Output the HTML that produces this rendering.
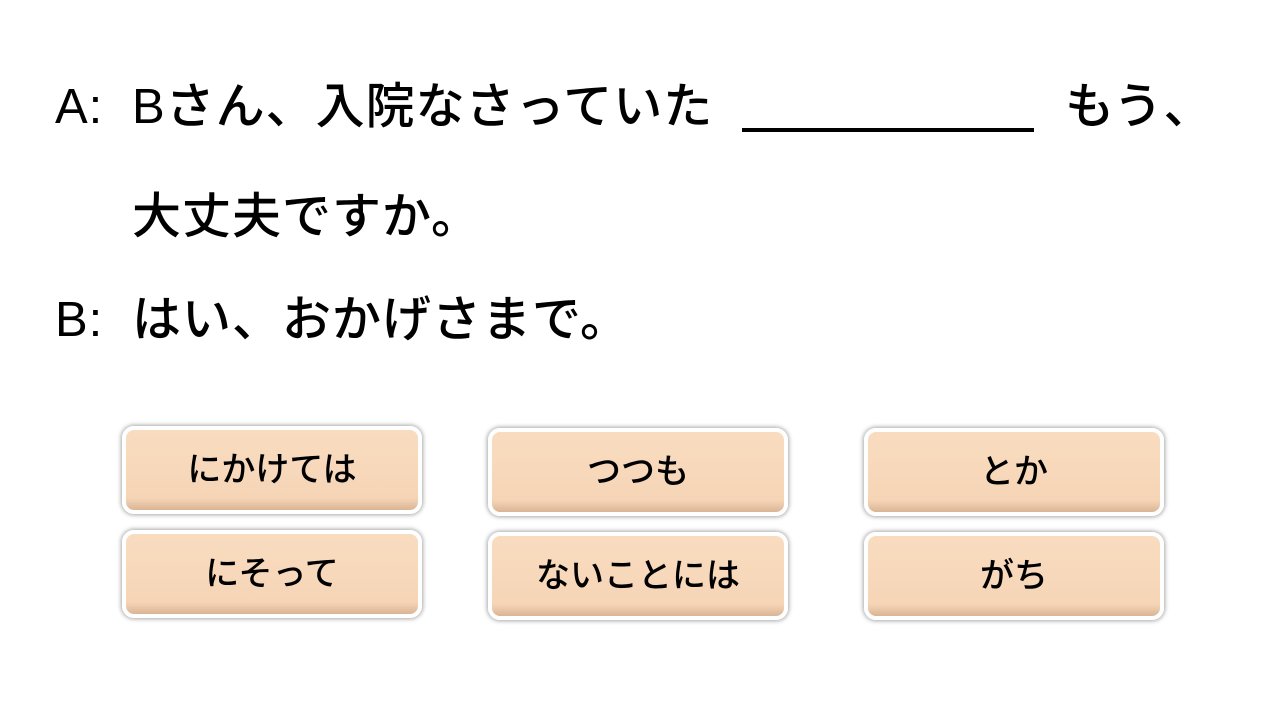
<!DOCTYPE html>
<html><head><meta charset="utf-8"><style>
body{margin:0;width:1280px;height:720px;background:#fff;position:relative;overflow:hidden;font-family:"Liberation Sans","Noto Sans CJK JP",sans-serif;color:#000}
.t{position:absolute;font-size:49px;line-height:50px;white-space:nowrap;font-weight:500;letter-spacing:1px}
.b{position:absolute;width:292px;height:80px;border:4px solid #fff;border-radius:12px;box-shadow:0 0 4px 1px rgba(0,0,0,.35);background:linear-gradient(#f9dcc0,#f6d5b6 85%,#d9b595);box-sizing:content-box;font-size:34px;font-weight:500;line-height:80px;text-align:center}
</style></head><body>
<div class="t" style="left:55px;top:82px">A:</div>
<div class="t" style="left:132px;top:82px">Bさん、入院なさっていた</div>
<div style="position:absolute;left:742px;top:128px;width:292px;height:4px;background:#000"></div>
<div class="t" style="left:1065px;top:82px">もう、</div>
<div class="t" style="left:132px;top:192px">大丈夫ですか。</div>
<div class="t" style="left:55px;top:295px">B:</div>
<div class="t" style="left:132px;top:295px">はい、おかげさまで。</div>
<div class="b" style="left:122px;top:426px">にかけては</div>
<div class="b" style="left:488px;top:428px">つつも</div>
<div class="b" style="left:864px;top:428px">とか</div>
<div class="b" style="left:122px;top:530px">にそって</div>
<div class="b" style="left:488px;top:532px">ないことには</div>
<div class="b" style="left:864px;top:532px">がち</div>
</body></html>
